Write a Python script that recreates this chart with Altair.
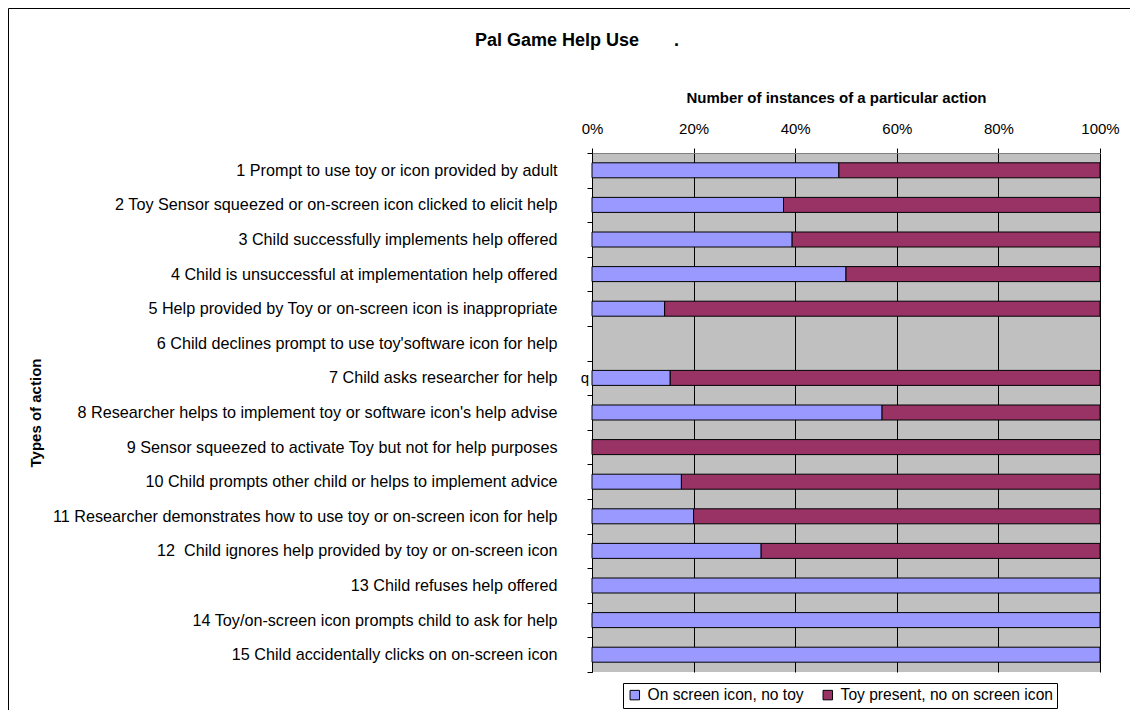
import altair as alt
import pandas as pd

categories = [
    "1 Prompt to use toy or icon provided by adult",
    "2 Toy Sensor squeezed or on-screen icon clicked to elicit help",
    "3 Child successfully implements help offered",
    "4 Child is unsuccessful at implementation help offered",
    "5 Help provided by Toy or on-screen icon is inappropriate",
    "6 Child declines prompt to use toy'software icon for help",
    "7 Child asks researcher for help",
    "8 Researcher helps to implement toy or software icon's help advise",
    "9 Sensor squeezed to activate Toy but not for help purposes",
    "10 Child prompts other child or helps to implement advice",
    "11 Researcher demonstrates how to use toy or on-screen icon for help",
    "12\u00a0 Child ignores help provided by toy or on-screen icon",
    "13 Child refuses help offered",
    "14 Toy/on-screen icon prompts child to ask for help",
    "15 Child accidentally clicks on on-screen icon",
]

series = ["On screen icon, no toy", "Toy present, no on screen icon"]
colors = ["#9999FF", "#993366"]

# percentage shares
on_screen_pct = [48.6, 37.7, 39.4, 50.0, 14.3, 0, 15.4, 57.1, 0, 17.6, 20.0, 33.3, 100, 100, 100]
toy_pct = [51.4, 62.3, 60.6, 50.0, 85.7, 0, 84.6, 42.9, 100, 82.4, 80.0, 66.7, 0, 0, 0]

# stray data label visible in the original
stray_label_category = [categories[6]]
stray_label_text = ["q"]

tick_values = [0, 0.2, 0.4, 0.6, 0.8, 1.0]

rows = []
for i, cat in enumerate(categories):
    rows.append({"category": cat, "series": series[0], "value": on_screen_pct[i] / 100, "ord": 0})
    rows.append({"category": cat, "series": series[1], "value": toy_pct[i] / 100, "ord": 1})
df = pd.DataFrame(rows)

label_df = pd.DataFrame({"category": stray_label_category, "value": [0.0], "label": stray_label_text})

FONT = "Liberation Sans"

one = pd.DataFrame({"k": [0]})
frame_left = alt.Chart(one).mark_rule(color="black", strokeWidth=1).encode(
    x=alt.value(-583.5), y=alt.value(-144.5), y2=alt.value(1000)
)
frame_top = alt.Chart(one).mark_rule(color="black", strokeWidth=1).encode(
    x=alt.value(-583.5), x2=alt.value(1400), y=alt.value(-144.5)
)

bars = alt.Chart(df).transform_filter(
    alt.datum.value > 0
).mark_bar(size=15, stroke="black", strokeWidth=1).encode(
    x=alt.X(
        "value:Q",
        stack="zero",
        scale=alt.Scale(domain=[0, 1], nice=False),
        axis=alt.Axis(
            orient="top",
            format="%",
            values=tick_values,
            grid=True,
            gridColor="black",
            gridOpacity=1,
            gridWidth=1,
            tickColor="black",
            tickSize=5,
            domainColor="#808080",
            labelFontSize=15,
            labelPadding=12,
            labelFlush=False,
            labelColor="black",
            title="Number of instances of a particular action",
            titleFontSize=15,
            titleFontWeight="bold",
            titleColor="black",
            titleX=244,
            titleY=-51,
            titleBaseline="alphabetic",
        ),
    ),
    y=alt.Y(
        "category:N",
        sort=categories,
        scale=alt.Scale(domain=categories, paddingInner=0, paddingOuter=0),
        axis=alt.Axis(
            tickBand="extent",
            tickColor="black",
            tickSize=5,
            domainColor="black",
            labelFontSize=16.2,
            labelPadding=30,
            labelLimit=0,
            labelColor="black",
            grid=False,
            title="Types of action",
            titleFontSize=15,
            titleFontWeight="bold",
            titleColor="black",
            titleAngle=270,
            titleX=-557,
            titleY=259.5,
            titleAlign="center",
            titleBaseline="middle",
        ),
    ),
    color=alt.Color(
        "series:N",
        scale=alt.Scale(domain=series, range=colors),
        legend=alt.Legend(
            title=None,
            orient="none",
            legendX=31,
            legendY=530,
            direction="horizontal",
            strokeColor="black",
            fillColor="white",
            padding=4,
            symbolType="square",
            symbolSize=90,
            symbolStrokeColor="black",
            symbolStrokeWidth=1,
            symbolOpacity=1,
            labelFontSize=15.6,
            labelColor="black",
            labelOffset=5,
            columnPadding=16,
            labelLimit=0,
        ),
    ),
    order=alt.Order("ord:Q"),
)

stray = alt.Chart(label_df).mark_text(
    align="right", baseline="middle", dx=-3, fontSize=15, color="black"
).encode(
    x=alt.X("value:Q"),
    y=alt.Y("category:N", sort=categories),
    text="label:N",
)

chart = alt.layer(frame_left, frame_top, bars, stray).properties(
    width=508,
    height=519,
    autosize=alt.AutoSizeParams(type="none"),
    padding={"left": 584, "top": 145, "right": 30, "bottom": 38},
    title=alt.TitleParams(
        text="Pal Game Help Use" + "\u00a0" * 7 + ".",
        anchor="start",
        frame="group",
        dx=-117,
        dy=42,
        fontSize=18,
        fontWeight="bold",
        color="black",
        offset=0,
    ),
).configure(
    font=FONT,
).configure_view(
    fill="#C0C0C0",
    stroke=None,
)

chart.save("out.html", embed_options={"renderer": "svg", "actions": False})
